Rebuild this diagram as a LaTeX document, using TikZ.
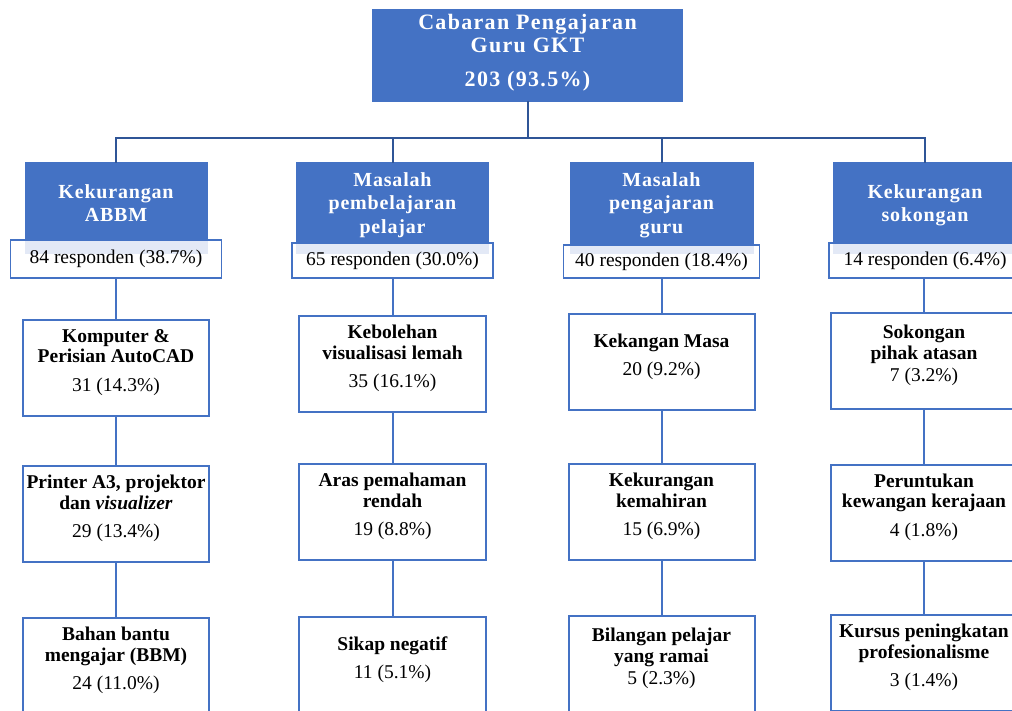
\documentclass[tikz,border=0pt]{standalone}
\usepackage{fontspec}
\setmainfont{Liberation Serif}
\definecolor{kotakbiru}{HTML}{4472C4}
\definecolor{garisbiru}{HTML}{2F5597}
\tikzset{
  utama/.style={fill=kotakbiru,text=white,font=\fontsize{22}{23}\selectfont\bfseries\addfontfeatures{LetterSpace=6},align=center,minimum width=311,minimum height=93,text depth=10pt,inner sep=0},
  tajuk/.style={fill=kotakbiru,text=white,font=\fontsize{20}{23.5}\selectfont\bfseries\addfontfeatures{LetterSpace=4},align=center,minimum height=92,text depth=10pt,inner sep=0},
  respon/.style={draw=kotakbiru,line width=1.5,fill=white,fill opacity=0.85,text opacity=1,font=\fontsize{19.5}{20}\selectfont,inner sep=0},
  kotak/.style={draw=kotakbiru,line width=2,fill=white,align=center,minimum width=186,minimum height=96,text depth=15pt,font=\fontsize{19.5}{20.5}\selectfont,inner sep=0},
  garis/.style={garisbiru,line width=2},
  sambung/.style={kotakbiru,line width=2}
}
\begin{document}
\begin{tikzpicture}[x=1pt,y=-1pt,line cap=rect]
\useasboundingbox (0,0) rectangle (1012,710);
\clip (0,0) rectangle (1012,710);
% puncak
\node[utama] (utama) at (527.5,55.5) {Cabaran Pengajaran\\Guru GKT\\[11pt]203 (93.5\%)};
\coordinate (cabang) at (527.5,138);
% tajuk kategori
\node[tajuk,minimum width=183] (t1) at (116,208) {Kekurangan\\ABBM};
\node[tajuk,minimum width=193] (t2) at (392.5,208) {Masalah\\pembelajaran\\pelajar};
\node[tajuk,minimum width=184] (t3) at (661.5,208) {Masalah\\pengajaran\\guru};
\node[tajuk,minimum width=184] (t4) at (925,208) {Kekurangan\\sokongan};
\draw[garis] (utama) -- (cabang);
\draw[garis] (t1.north) |- (cabang) -| (t4.north);
\draw[garis] (t2.north) -- (t2.north |- cabang);
\draw[garis] (t3.north) -- (t3.north |- cabang);
% bilangan responden
\node[respon,minimum width=211,minimum height=38] (r1) at (116,259) {84 responden (38.7\%)};
\node[respon,minimum width=201,minimum height=35] (r2) at (392.5,260.5) {65 responden (30.0\%)};
\node[respon,minimum width=196,minimum height=33] (r3) at (661.5,261.5) {40 responden (18.4\%)};
\node[respon,minimum width=192,minimum height=35] (r4) at (925,260.5) {14 responden (6.4\%)};
% lajur 1
\node[kotak] (a1) at (116,368) {\textbf{Komputer \&}\\\textbf{Perisian AutoCAD}\\[8pt]31 (14.3\%)};
\node[kotak] (a2) at (116,514) {\textbf{Printer A3, projektor}\\\textbf{dan \textit{visualizer}}\\[8pt]29 (13.4\%)};
\node[kotak] (a3) at (116,666) {\textbf{Bahan bantu}\\\textbf{mengajar (BBM)}\\[8pt]24 (11.0\%)};
% lajur 2
\node[kotak,minimum width=187] (b1) at (392.5,364) {\textbf{Kebolehan}\\\textbf{visualisasi lemah}\\[8pt]35 (16.1\%)};
\node[kotak,minimum width=187] (b2) at (392.5,512) {\textbf{Aras pemahaman}\\\textbf{rendah}\\[8pt]19 (8.8\%)};
\node[kotak,minimum width=187] (b3) at (392.5,665) {\textbf{Sikap negatif}\\[8pt]11 (5.1\%)};
% lajur 3
\node[kotak] (c1) at (661.5,362) {\textbf{Kekangan Masa}\\[8pt]20 (9.2\%)};
\node[kotak] (c2) at (661.5,512) {\textbf{Kekurangan}\\\textbf{kemahiran}\\[8pt]15 (6.9\%)};
\node[kotak] (c3) at (661.5,664) {\textbf{Bilangan pelajar}\\\textbf{yang ramai}\\[2pt]5 (2.3\%)};
% lajur 4
\node[kotak] (d1) at (924,361) {\textbf{Sokongan}\\\textbf{pihak atasan}\\[2pt]7 (3.2\%)};
\node[kotak] (d2) at (924,512.5) {\textbf{Peruntukan}\\\textbf{kewangan kerajaan}\\[8pt]4 (1.8\%)};
\node[kotak] (d3) at (924,663) {\textbf{Kursus peningkatan}\\\textbf{profesionalisme}\\[8pt]3 (1.4\%)};
% penyambung
\draw[sambung] (r1) -- (a1) -- (a2) -- (a3);
\draw[sambung] (r2) -- (b1) -- (b2) -- (b3);
\draw[sambung] (r3) -- (c1) -- (c2) -- (c3);
\draw[sambung] (r4.south -| d1) -- (d1) -- (d2) -- (d3);
\end{tikzpicture}
\end{document}
